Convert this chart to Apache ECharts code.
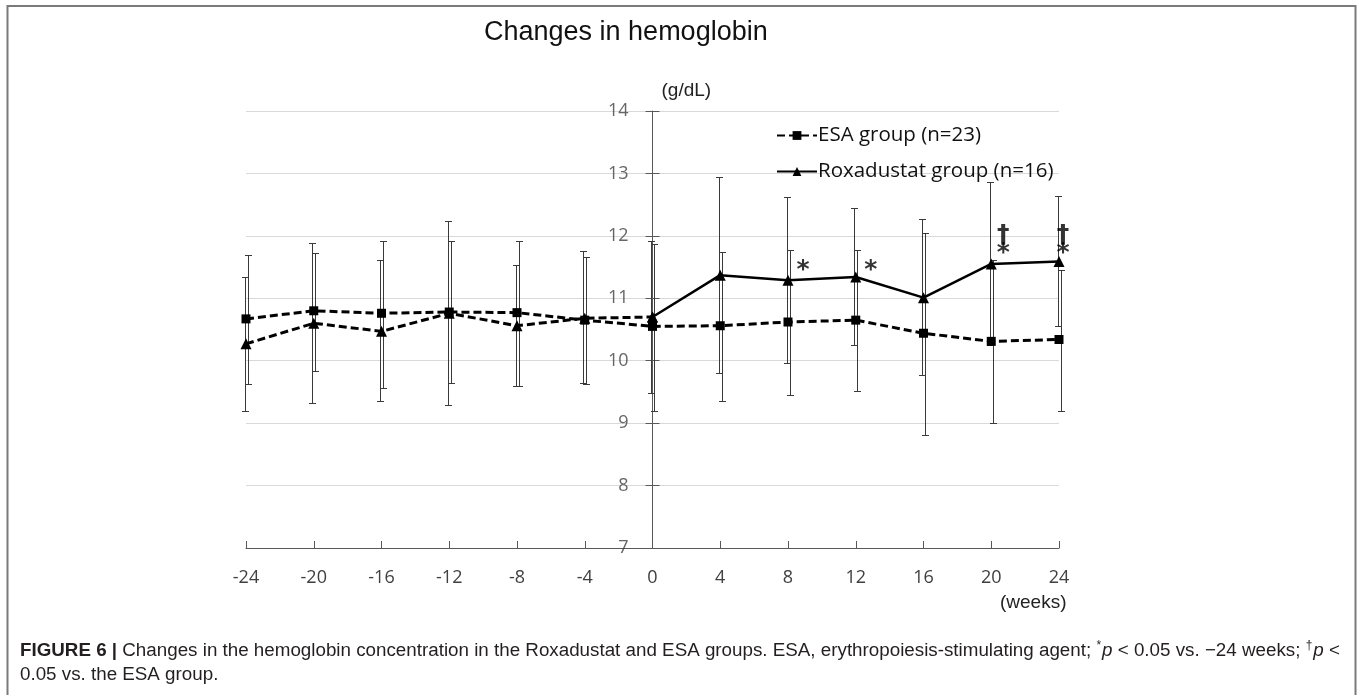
<!DOCTYPE html>
<html><head><meta charset="utf-8">
<script src="https://cdn.jsdelivr.net/npm/echarts@6/dist/echarts.min.js"></script>
<style>html,body{margin:0;padding:0;background:#fff}#c{width:1360px;height:695px}</style>
</head><body><div id="c"></div>
<script>
// ---- data ----
const weeks    = [-24, -20, -16, -12, -8, -4, 0, 4, 8, 12, 16, 20, 24];
const yTicks   = [7, 8, 9, 10, 11, 12, 13, 14];
const esaMean  = [10.67, 10.80, 10.76, 10.78, 10.77, 10.65, 10.55, 10.56, 10.62, 10.65, 10.44, 10.31, 10.34];
const esaHigh  = [11.69, 11.72, 11.91, 11.92, 11.92, 11.66, 11.87, 11.74, 11.78, 11.78, 12.04, 11.62, 11.45];
const esaLow   = [9.63, 9.84, 9.57, 9.64, 9.59, 9.62, 9.20, 9.36, 9.45, 9.52, 8.81, 9.00, 9.20];
const roxaMean = [10.27, 10.60, 10.47, 10.76, 10.56, 10.68, 10.70, 11.37, 11.29, 11.34, 11.01, 11.55, 11.59];
const roxaHigh = [11.34, 11.89, 11.61, 12.23, 11.53, 11.75, 11.92, 12.94, 12.63, 12.44, 12.27, 12.86, 12.64];
const roxaLow  = [9.20, 9.33, 9.35, 9.29, 9.60, 9.64, 9.49, 9.81, 9.97, 10.25, 9.77, 10.25, 10.55];
const sigWeeks = [8, 12, 20, 24];
const sigMarks = ['*', '*', '†\n*', '†\n*'];
const esaName  = 'ESA group (n=23)';
const roxaName = 'Roxadustat group (n=16)';

// ---- chart ----
const chart = echarts.init(document.getElementById('c'), null, {renderer: 'canvas'});
const labelOffsets = {8: [15, -10], 12: [15, -7], 20: [12, -19], 24: [4, -17]};

function errorSeries(name, low, high, dx) {
  return {
    type: 'custom', name: name, silent: true, z: 1,
    encode: {x: 0, y: [1, 2]},
    data: weeks.map((w, i) => [w, low[i], high[i]]),
    renderItem: function (params, api) {
      const lo = api.coord([api.value(0), api.value(1)]);
      const hi = api.coord([api.value(0), api.value(2)]);
      const x = Math.round(lo[0] + dx) + 0.5;
      const y1 = Math.round(hi[1]) + 0.5, y2 = Math.round(lo[1]) + 0.5;
      const cap = 3.5;
      const style = {stroke: '#3a3a3a', lineWidth: 1};
      return {type: 'group', children: [
        {type: 'line', shape: {x1: x, y1: y1, x2: x, y2: y2}, style: style},
        {type: 'line', shape: {x1: x - cap, y1: y1, x2: x + cap, y2: y1}, style: style},
        {type: 'line', shape: {x1: x - cap, y1: y2, x2: x + cap, y2: y2}, style: style}
      ]};
    }
  };
}

const idx = w => weeks.indexOf(w);
const roxaPost = weeks.map((w, i) => [w, roxaMean[i]]).filter(d => d[0] >= 0);
const roxaPre  = weeks.map((w, i) => [w, roxaMean[i]]).filter(d => d[0] <= 0);

const axisColor = '#595959';
const yMin = yTicks[0], yMax = yTicks[yTicks.length - 1];
const xBase = {type: 'value', min: weeks[0], max: weeks[weeks.length - 1], interval: 4};
const tickFont = {fontFamily: 'Open Sans', fontSize: 18, color: '#404040'};
const option = {
  backgroundColor: '#fff',
  animation: false,
  title: {
    text: 'Changes in hemoglobin',
    left: 479, top: 14,
    textStyle: {fontFamily: 'Liberation Sans', fontSize: 27, fontWeight: 'normal', color: '#111'}
  },
  legend: {
    data: [esaName, roxaName],
    orient: 'vertical',
    left: 771, top: 118,
    itemWidth: 40, itemHeight: 11, itemGap: 11,
    textStyle: {fontFamily: 'Open Sans', fontSize: 20.5, color: '#111', lineHeight: 25, padding: [0, 0, 0, -4]}
  },
  grid: {left: 246, right: 301, top: 111, bottom: 147},
  xAxis: [Object.assign({}, xBase, {
    axisLine: {onZero: false, lineStyle: {color: axisColor, width: 1}},
    axisTick: {inside: true, length: 7, lineStyle: {color: axisColor}},
    axisLabel: Object.assign({margin: 21}, tickFont),
    splitLine: {show: false}
  }), Object.assign({}, xBase, {show: false, axisLine: {onZero: false}}),
      Object.assign({}, xBase, {show: false, axisLine: {onZero: false}})],
  yAxis: [{
    // grid lines only
    type: 'value', min: yMin, max: yMax, interval: 1, position: 'left',
    axisLine: {show: false, onZero: false}, axisTick: {show: false}, axisLabel: {show: false},
    splitLine: {show: true, lineStyle: {color: '#d9d9d9', width: 1}}
  }, {
    // axis line at week 0 with outer ticks and unit name
    type: 'value', min: yMin, max: yMax, interval: 1, position: 'left',
    name: '(g/dL)', nameLocation: 'end', nameGap: 11,
    nameTextStyle: {fontFamily: 'Liberation Sans', fontSize: 19, color: '#222', align: 'left', padding: [0, 0, 0, 9]},
    axisLine: {show: true, onZero: true, onZeroAxisIndex: 1, lineStyle: {color: axisColor, width: 1}},
    axisTick: {show: true, inside: false, length: 7, lineStyle: {color: axisColor}},
    axisLabel: {show: false},
    splitLine: {show: false}
  }, {
    // inner half of the crossing ticks
    type: 'value', min: yMin, max: yMax, interval: 1, position: 'left',
    axisLine: {show: false, onZero: true, onZeroAxisIndex: 2},
    axisTick: {show: true, inside: true, length: 7, lineStyle: {color: axisColor}},
    axisLabel: {show: false},
    splitLine: {show: false}
  }],
  series: [
    errorSeries('esaErr', esaLow, esaHigh, 1.5),
    errorSeries('roxaErr', roxaLow, roxaHigh, -1.5),
    {
      name: esaName, type: 'line', z: 3,
      data: weeks.map((w, i) => [w, esaMean[i]]),
      symbol: 'rect', symbolSize: 9, showSymbol: true,
      lineStyle: {color: '#000', width: 3, type: [8, 4]},
      itemStyle: {color: '#000'}
    },
    {
      name: roxaName, type: 'line', z: 4,
      data: roxaPost,
      symbol: 'triangle', symbolSize: 11,
      lineStyle: {color: '#000', width: 2.5, type: 'solid'},
      itemStyle: {color: '#000'}
    },
    {
      name: roxaName, type: 'line', z: 4,
      data: roxaPre,
      symbol: 'triangle', symbolSize: 11,
      lineStyle: {color: '#000', width: 3, type: [8, 4]},
      itemStyle: {color: '#000'}
    },
    {
      name: 'significance', type: 'scatter', z: 5, silent: true,
      symbolSize: 0,
      data: sigWeeks.map((w) => ({
        value: [w, roxaMean[idx(w)]],
        label: {offset: labelOffsets[w]}
      })),
      label: {
        show: true, position: 'inside',
        formatter: p => sigMarks[p.dataIndex],
        fontFamily: 'DejaVu Sans', fontSize: 25, fontWeight: 'bold', lineHeight: 18, color: '#000',
        align: 'center', verticalAlign: 'middle'
      }
    },
    {
      // y tick labels placed beside the axis that sits at week 0
      name: 'yTickLabels', type: 'scatter', z: 5, silent: true,
      symbolSize: 0,
      data: yTicks.map(t => [0, t]),
      label: Object.assign({
        show: true, position: 'left', distance: 24,
        formatter: p => String(p.value[1]),
        align: 'right', verticalAlign: 'middle'
      }, tickFont)
    }
  ],
  graphic: [
    {type: 'rect', silent: true, shape: {x: 7.5, y: 6, width: 1348, height: 760},
     style: {fill: 'none', stroke: '#7a7a7a', lineWidth: 2}},
    {type: 'text', left: 1000, top: 593, silent: true,
     style: {text: '(weeks)', fontFamily: 'Liberation Sans', fontSize: 19, fill: '#222'}},
    {type: 'text', left: 20, top: 639, silent: true,
     style: {
       text: '{b|FIGURE 6 |} {n|Changes in the hemoglobin concentration in the Roxadustat and ESA groups. ESA, erythropoiesis-stimulating agent; }{s|*}{i|p}{n| < 0.05 vs. −24 weeks; }{s|†}{i|p}{n| <}\n{n|0.05 vs. the ESA group.}',
       fontFamily: 'Liberation Sans', fontSize: 18.8, fill: '#231f20', lineHeight: 24,
       rich: {
         b: {fontFamily: 'Liberation Sans', fontSize: 18.8, fontWeight: 'bold', fill: '#231f20', lineHeight: 24},
         n: {fontFamily: 'Liberation Sans', fontSize: 18.8, fill: '#231f20', lineHeight: 24},
         i: {fontFamily: 'Liberation Sans', fontSize: 18.8, fontStyle: 'italic', fill: '#231f20', lineHeight: 24},
         s: {fontFamily: 'Liberation Sans', fontSize: 12, fill: '#231f20', lineHeight: 24, verticalAlign: 'top', padding: [1, 1, 0, 0]}
       }
     }}
  ]
};
chart.setOption(option);
</script>
</body></html>
